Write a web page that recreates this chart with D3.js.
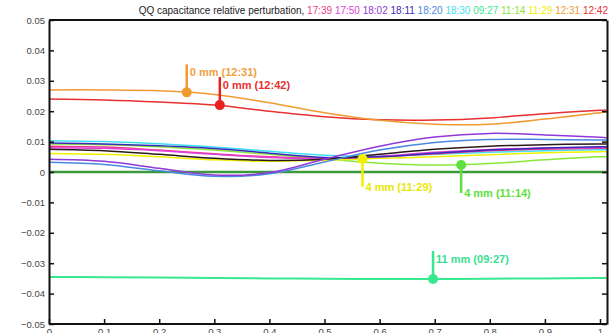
<!DOCTYPE html>
<html>
<head>
<meta charset="utf-8">
<script src="https://cdnjs.cloudflare.com/ajax/libs/d3/7.8.5/d3.min.js"></script>
<style>
  body { margin: 0; background: #fff; }
  svg { display: block; font-family: "Liberation Sans", Arial, sans-serif; }
</style>
</head>
<body>
<script>
// sample positions along the x axis
var xs = [0, 0.1, 0.2, 0.3, 0.4, 0.5, 0.6, 0.7, 0.8, 0.9, 1.0, 1.012];

// series values
var s1739 = [0.0085, 0.0082, 0.0072, 0.0060, 0.0050, 0.0045, 0.0050, 0.0060, 0.0070, 0.0075, 0.0078, 0.0078];
var s1750 = [0.0080, 0.0078, 0.0070, 0.0058, 0.0048, 0.0044, 0.0052, 0.0065, 0.0074, 0.0079, 0.0080, 0.0080];
var s1802 = [0.0042, 0.0035, 0.0012, -0.0010, -0.0002, 0.0042, 0.0085, 0.0115, 0.0127, 0.0122, 0.0114, 0.0113];
var s1811 = [0.0095, 0.0092, 0.0086, 0.0077, 0.0062, 0.0048, 0.0050, 0.0062, 0.0072, 0.0079, 0.0083, 0.0083];
var s1820 = [0.0032, 0.0025, 0.0004, -0.0014, -0.0006, 0.0033, 0.0072, 0.0097, 0.0107, 0.0107, 0.0105, 0.0105];
var s1830 = [0.0103, 0.0100, 0.0093, 0.0082, 0.0068, 0.0055, 0.0052, 0.0058, 0.0065, 0.0070, 0.0073, 0.0073];
var s0927 = [-0.0345, -0.0346, -0.0347, -0.0349, -0.0350, -0.0351, -0.0352, -0.0352, -0.0351, -0.0350, -0.0349, -0.0349];
var s1114 = [0.0092, 0.0090, 0.0083, 0.0072, 0.0058, 0.0044, 0.0029, 0.0023, 0.0028, 0.0040, 0.0050, 0.0050];
var s1129 = [0.0061, 0.0058, 0.0050, 0.0040, 0.0035, 0.0039, 0.0045, 0.0050, 0.0057, 0.0063, 0.0067, 0.0067];
var s1231 = [0.0270, 0.0270, 0.0267, 0.0255, 0.0228, 0.0195, 0.0170, 0.0157, 0.0157, 0.0174, 0.0195, 0.0197];
var s1242 = [0.0240, 0.0237, 0.0230, 0.0220, 0.0200, 0.0182, 0.0172, 0.0171, 0.0178, 0.0192, 0.0203, 0.0204];
var sMean = [0.0075, 0.0070, 0.0058, 0.0045, 0.0038, 0.0042, 0.0058, 0.0075, 0.0085, 0.0090, 0.0092, 0.0092];
var sZero = [0, 0, 0, 0, 0, 0, 0, 0, 0, 0, 0, 0];

var times = ["17:39", "17:50", "18:02", "18:11", "18:20", "18:30", "09:27", "11:14", "11:29", "12:31", "12:42"];
var timeColors = ["#ee3a8c", "#e040d8", "#9038d8", "#3a2ab8", "#4a88e0", "#40e0f0", "#38e890", "#88e838", "#f0f000", "#f09a30", "#e83030"];

var series = [
  { name: "zero", color: "#3c9a3c", values: sZero, w: 2.5 },
  { name: "09:27", color: "#38e890", values: s0927, w: 2 },
  { name: "11:14", color: "#88e838", values: s1114, w: 1.5 },
  { name: "11:29", color: "#f0f000", values: s1129, w: 1.5 },
  { name: "18:30", color: "#40e0f0", values: s1830, w: 1.5 },
  { name: "17:39", color: "#ee3a8c", values: s1739, w: 1.5 },
  { name: "17:50", color: "#e040d8", values: s1750, w: 1.5 },
  { name: "18:11", color: "#3a2ab8", values: s1811, w: 1.5 },
  { name: "mean", color: "#2a1a1a", values: sMean, w: 1.5 },
  { name: "18:20", color: "#4a88e0", values: s1820, w: 1.5 },
  { name: "18:02", color: "#9038d8", values: s1802, w: 1.5 },
  { name: "12:42", color: "#e83030", values: s1242, w: 1.5 },
  { name: "12:31", color: "#f09a30", values: s1231, w: 1.5 }
];

// annotated points: series, position, value read, label, stick direction
var markers = [
  { name: "12:31", t: 0.25, v: 0.0262, label: "0 mm (12:31)", dir: -1, color: "#f09a30", text: "#f0a040" },
  { name: "12:42", t: 0.31, v: 0.0220, label: "0 mm (12:42)", dir: -1, color: "#e82020", text: "#e83030" },
  { name: "11:29", t: 0.569, v: 0.0043, label: "4 mm (11:29)", dir: 1, color: "#f0f000", text: "#e8e800" },
  { name: "11:14", t: 0.748, v: 0.0023, label: "4 mm (11:14)", dir: 1, color: "#60e040", text: "#60e040" },
  { name: "09:27", t: 0.697, v: -0.0352, label: "11 mm (09:27)", dir: -1, color: "#38e890", text: "#38e090" }
];

var yTicks = [0.05, 0.04, 0.03, 0.02, 0.01, 0, -0.01, -0.02, -0.03, -0.04, -0.05];
var xTicks = [0, 0.1, 0.2, 0.3, 0.4, 0.5, 0.6, 0.7, 0.8, 0.9, 1];

(function() {
  var W = 610, H = 333;
  var pLeft = 49, pRight = 607, pTop = 20, pBottom = 324;

  var x = d3.scaleLinear().domain([0, 1]).range([pLeft, 600]);
  var y = d3.scaleLinear().domain([-0.05, 0.05]).range([pBottom, pTop]);

  var svg = d3.select("body").append("svg")
      .attr("width", W)
      .attr("height", H);

  svg.append("defs").append("clipPath").attr("id", "clip")
    .append("rect").attr("x", pLeft).attr("y", pTop)
    .attr("width", pRight - pLeft).attr("height", pBottom - pTop);

  var line = d3.line()
      .x(function(d) { return x(d[0]); })
      .y(function(d) { return y(d[1]); })
      .curve(d3.curveCatmullRom.alpha(0.5));

  var plot = svg.append("g").attr("clip-path", "url(#clip)");

  plot.selectAll(".series")
      .data(series)
    .enter().append("path")
      .attr("class", "series")
      .attr("fill", "none")
      .attr("stroke", function(d) { return d.color; })
      .attr("stroke-width", function(d) { return d.w; })
      .attr("d", function(d) {
        return line(d.values.map(function(v, i) { return [xs[i], v]; }));
      });

  // markers with sticks and labels
  var stick = 28;
  var mk = svg.selectAll(".marker")
      .data(markers)
    .enter().append("g")
      .attr("class", "marker");

  mk.append("line")
      .attr("x1", function(d) { return x(d.t); })
      .attr("x2", function(d) { return x(d.t); })
      .attr("y1", function(d) { return y(d.v); })
      .attr("y2", function(d) { return y(d.v) + d.dir * stick; })
      .attr("stroke", function(d) { return d.color; })
      .attr("stroke-width", 2.5);

  mk.append("circle")
      .attr("cx", function(d) { return x(d.t); })
      .attr("cy", function(d) { return y(d.v); })
      .attr("r", 5)
      .attr("fill", function(d) { return d.color; });

  mk.append("text")
      .attr("x", function(d) { return x(d.t) + 3; })
      .attr("y", function(d) { return d.dir < 0 ? y(d.v) - stick + 12 : y(d.v) + stick + 4; })
      .attr("font-size", "11px")
      .attr("font-weight", "bold")
      .attr("fill", function(d) { return d.text; })
      .text(function(d) { return d.label; });

  // axes, MATLAB style box with inward ticks
  var axisColor = "#111";
  var yl = svg.append("g")
      .attr("transform", "translate(" + pLeft + ",0)")
      .call(d3.axisLeft(y).tickValues(yTicks).tickSizeInner(-5).tickSizeOuter(0)
        .tickFormat(function(d) { return d === 0 ? "0" : d3.format(".2f")(d); }));
  yl.select(".domain").attr("stroke", axisColor).attr("stroke-width", 2);
  yl.selectAll(".tick line").attr("stroke", axisColor).attr("stroke-width", 1.5);
  yl.selectAll(".tick text").attr("x", -4).attr("fill", "#444").attr("font-size", "9.5px")
      .attr("font-family", "Liberation Sans, Arial, sans-serif");

  var yr = svg.append("g")
      .attr("transform", "translate(" + pRight + ",0)")
      .call(d3.axisRight(y).tickValues(yTicks).tickSizeInner(-5).tickSizeOuter(0).tickFormat(""));
  yr.select(".domain").attr("stroke", axisColor).attr("stroke-width", 2);
  yr.selectAll(".tick line").attr("stroke", axisColor).attr("stroke-width", 1.5);

  var xb = svg.append("g")
      .attr("transform", "translate(0," + pBottom + ")")
      .call(d3.axisBottom(x).tickValues(xTicks).tickSizeInner(-5).tickSizeOuter(0)
        .tickFormat(function(d) { return d === 0 || d === 1 ? d3.format("d")(d) : d3.format(".1f")(d); }));
  xb.select(".domain").attr("d", "M" + pLeft + ",0H" + pRight).attr("stroke", axisColor).attr("stroke-width", 2);
  xb.selectAll(".tick line").attr("stroke", axisColor).attr("stroke-width", 1.5);
  xb.selectAll(".tick text").attr("y", 4).attr("dy", "0.71em").attr("fill", "#444").attr("font-size", "9.5px")
      .attr("font-family", "Liberation Sans, Arial, sans-serif");

  svg.append("line")
      .attr("x1", pLeft).attr("x2", pRight).attr("y1", pTop).attr("y2", pTop)
      .attr("stroke", axisColor).attr("stroke-width", 2);

  // title with coloured times
  var title = svg.append("text")
      .attr("x", 608)
      .attr("y", 14)
      .attr("text-anchor", "end")
      .attr("font-size", "10px");
  title.append("tspan").attr("fill", "#222").text("QQ capacitance relative perturbation, ");
  times.forEach(function(t, i) {
    title.append("tspan")
      .attr("fill", timeColors[i])
      .text(t + (i < times.length - 1 ? " " : ""));
  });
})();
</script>
</body>
</html>
